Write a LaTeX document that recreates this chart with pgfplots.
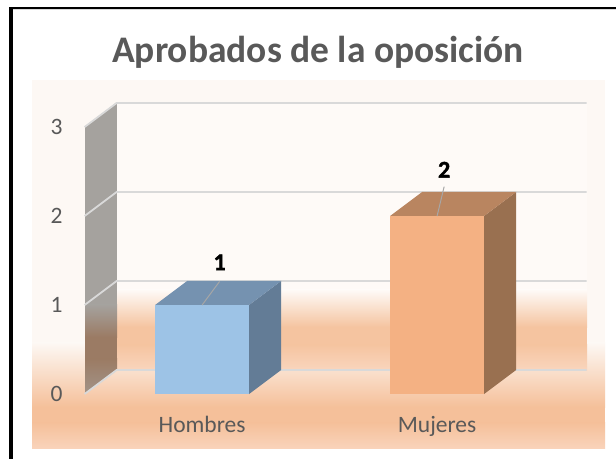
\documentclass[border=0pt]{standalone}
\usepackage{fontspec}
\setmainfont{Carlito}
\newfontfamily\labelfont[FakeBold=1.5]{Carlito Bold}
\usepackage{pgfplots}
\pgfplotsset{compat=1.18}
\definecolor{bgA}{HTML}{FDF8F4}
\definecolor{bgB}{HTML}{F5C09A}
\definecolor{bgC}{HTML}{F9D3BA}
\definecolor{wallA}{HTML}{FEFAF7}
\definecolor{wallB}{HTML}{F5C4A0}
\definecolor{wallC}{HTML}{F9D5BD}
\definecolor{sideA}{HTML}{A5A29E}
\definecolor{sideB}{HTML}{9B7B64}
\definecolor{sideC}{HTML}{A39488}
\definecolor{txt}{HTML}{595959}
\definecolor{gridc}{HTML}{D9D9D9}
\definecolor{blueF}{HTML}{9DC3E6}
\definecolor{blueT}{HTML}{7592B0}
\definecolor{blueS}{HTML}{637C96}
\definecolor{orF}{HTML}{F4B183}
\definecolor{orT}{HTML}{B98560}
\definecolor{orS}{HTML}{997050}
\definecolor{leader}{HTML}{A6A6A6}
\begin{document}
\begin{tikzpicture}[x=1pt,y=1pt]
\useasboundingbox (0,0) rectangle (616,459);
\fill[white] (0,0) rectangle (616,459);
% frame
\fill[black] (9.3,0) rectangle (13.3,452);
\fill[black] (9.3,450) rectangle (616,452);
\fill[gridc] (13.3,449.2) rectangle (616,450);
% chart area
\fill[bgA] (32,116) rectangle (605,379);
\shade[top color=bgA,bottom color=bgB] (32,52) rectangle (605,116.3);
\fill[bgB] (32,36) rectangle (605,52.3);
\shade[top color=bgB,bottom color=bgC] (32,11) rectangle (605,36.3);
% back wall
\fill[wallA] (117,169) rectangle (587,357);
\shade[top color=wallA,bottom color=wallB] (117,132) rectangle (587,169.3);
\fill[wallB] (117,114) rectangle (587,132.3);
\shade[top color=wallB,bottom color=wallC] (117,89) rectangle (587,114.3);
% side wall
\begin{scope}
\clip (85,332) -- (117,357) -- (117,89) -- (85,65) -- cycle;
\fill[sideA] (85,154) rectangle (117,357);
\shade[top color=sideA,bottom color=sideB] (85,122) rectangle (117,154.3);
\fill[sideB] (85,100) rectangle (117,122.3);
\shade[top color=sideB,bottom color=sideC] (85,65) rectangle (117,100.3);
\end{scope}
\node[font=\fontsize{37.5}{42}\selectfont\bfseries,text=txt,anchor=base,inner sep=0pt] at (318,396) {Aprobados de la oposición};
\begin{axis}[
  at={(84.6pt,65pt)},anchor=south west,
  scale only axis,width=470pt,height=267pt,
  xmin=-0.5,xmax=1.5,ymin=0,ymax=3,
  clip=false,
  axis line style={draw=none},
  major tick length=0pt,
  xtick={0,1},xticklabels={Hombres,Mujeres},
  ytick={0,1,2,3},
  /pgf/number format/assume math mode=true,
  tick label style={font=\fontsize{23.5}{28}\selectfont,text=txt},
  xticklabel style={anchor=base,yshift=-38pt},
  yticklabel style={anchor=center,xshift=-28pt},
]
% gridlines: back wall and side wall
\pgfplotsinvokeforeach{0,1,2,3}{
  \addplot[color=gridc,line width=1.8pt,forget plot] coordinates {(-0.5,#1) (-0.36383,#1+0.2697) (1.63617,#1+0.2697)};
}
% Hombres = 1
\addplot[fill=blueS,draw=none,forget plot] coordinates {(0.2,0) (0.33617,0.2697) (0.33617,1.2697) (0.2,1)} --cycle;
\addplot[fill=blueT,draw=none,forget plot] coordinates {(-0.2,1) (0.2,1) (0.33617,1.2697) (-0.06383,1.2697)} --cycle;
\addplot[fill=blueF,draw=none,forget plot] coordinates {(-0.2,0) (0.2,0) (0.2,1) (-0.2,1)} --cycle;
\addplot[color=leader,line width=1pt,forget plot] coordinates {(0,1) (0.0745,1.265)};
% Mujeres = 2
\addplot[fill=orS,draw=none,forget plot] coordinates {(1.2,0) (1.33617,0.2697) (1.33617,2.2697) (1.2,2)} --cycle;
\addplot[fill=orT,draw=none,forget plot] coordinates {(0.8,2) (1.2,2) (1.33617,2.2697) (0.93617,2.2697)} --cycle;
\addplot[fill=orF,draw=none,forget plot] coordinates {(0.8,0) (1.2,0) (1.2,2) (0.8,2)} --cycle;
\addplot[color=leader,line width=1pt,forget plot] coordinates {(1,2) (1.03,2.33)};
\node[font=\fontsize{24}{28}\selectfont\labelfont,text=black] at (axis cs:0.0745,1.48) {1};
\node[font=\fontsize{24}{28}\selectfont\labelfont,text=black] at (axis cs:1.03,2.52) {2};
\end{axis}
\end{tikzpicture}
\end{document}
